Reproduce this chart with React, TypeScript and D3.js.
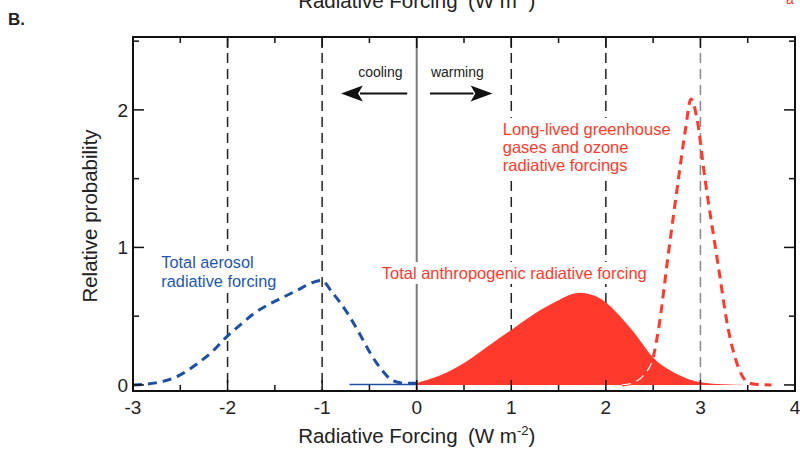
import React, { useLayoutEffect, useRef, useState } from "react";
import * as d3 from "d3";

const W = 800;
const H = 450;

// Data
const aerosolX = [-3, -2.76, -2.51, -2.31, -2.15, -2.01, -1.86, -1.72, -1.58, -1.42, -1.26, -1.1, -1.01, -0.89, -0.73, -0.61, -0.49, -0.37, -0.25, -0.12, 0, 0.05];
const aerosolY = [0.0, 0.015, 0.07, 0.16, 0.25, 0.35, 0.44, 0.52, 0.58, 0.635, 0.69, 0.745, 0.76, 0.67, 0.52, 0.38, 0.23, 0.11, 0.03, 0.012, 0.012, 0.012];
const aerosolSolidX = [-0.71, 0];
const aerosolSolidY = [0.003, 0.003];

const totalX = [0, 0.25, 0.5, 0.75, 1, 1.25, 1.5, 1.62, 1.72, 1.85, 2.0, 2.15, 2.3, 2.5, 2.75, 3.0, 3.25, 3.5];
const totalY = [0.015, 0.07, 0.16, 0.28, 0.4, 0.52, 0.615, 0.655, 0.67, 0.655, 0.6, 0.5, 0.38, 0.2, 0.08, 0.02, 0.005, 0];

const ghgX = [2.17, 2.3, 2.4, 2.5, 2.56, 2.66, 2.76, 2.84, 2.9, 2.96, 3.05, 3.19, 3.29, 3.4, 3.51, 3.6, 3.75];
const ghgY = [0, 0.02, 0.07, 0.2, 0.42, 0.95, 1.46, 1.85, 2.08, 1.95, 1.49, 0.86, 0.42, 0.13, 0.015, 0.003, 0];

const xTicks = [-3, -2, -1, 0, 1, 2, 3, 4];
const xMinorTicks = [-2.5, -1.5, -0.5, 0.5, 1.5, 2.5, 3.5];
const yTicks = [0, 1, 2];
const yMinorTicks = [0.5, 1.5, 2.5];
const dashedVerticals = [-2, -1, 1, 2];
const greyDashedVerticals = [3];

const RED = "#ff3a2c";
const BLUE = "#1d4fa3";
const TEXT_BLUE = "#2456b0";
const FONT = "'Liberation Sans', Arial, Helvetica, sans-serif";

function BoxedText(props: { x: number; y: number; lines: string[]; fill: string; size: number; lh: number }) {
  const ref = useRef<SVGTextElement>(null);
  const [box, setBox] = useState<{ x: number; y: number; w: number; h: number } | null>(null);
  useLayoutEffect(() => {
    if (ref.current) {
      const b = ref.current.getBBox();
      setBox({ x: b.x, y: b.y, w: b.width, h: b.height });
    }
  }, []);
  return (
    <g>
      {box && <rect x={box.x - 3} y={box.y - 2} width={box.w + 6} height={box.h + 4} fill="#fff" />}
      <text ref={ref} x={props.x} y={props.y} fontSize={props.size} fill={props.fill}>
        {props.lines.map((l, i) => (
          <tspan key={i} x={props.x} dy={i === 0 ? 0 : props.lh}>
            {l}
          </tspan>
        ))}
      </text>
    </g>
  );
}

export default function App() {
  const x = d3.scaleLinear().domain([-3, 4]).range([133, 795]);
  const y = d3.scaleLinear().domain([-0.044, 2.53]).range([391, 37]);
  const [x0, x1] = x.range();
  const [y0, y1] = y.range();

  const pts = (xs: number[], ys: number[]) => xs.map((v, i) => [v, ys[i]] as [number, number]);

  const line = d3
    .line<[number, number]>()
    .x((d) => x(d[0]))
    .y((d) => y(d[1]))
    .curve(d3.curveMonotoneX);

  const area = d3
    .area<[number, number]>()
    .x((d) => x(d[0]))
    .y0(y(0))
    .y1((d) => y(d[1]))
    .curve(d3.curveMonotoneX);

  const totalPath = area(pts(totalX, totalY)) || "";
  const ghgPath = line(pts(ghgX, ghgY)) || "";
  const aerosolPath = line(pts(aerosolX, aerosolY)) || "";
  const aerosolSolidPath = line(pts(aerosolSolidX, aerosolSolidY)) || "";

  const arrowY = y(2.12);

  const axisLabel = (yy: number) => (
    <text x={x(0)} y={yy} textAnchor="middle" fontSize={20.5} fill="#222">
      Radiative Forcing{"\u2002"}(W m<tspan dy={-8} fontSize={13}>-2</tspan>
      <tspan dy={8}>)</tspan>
    </text>
  );

  return (
    <svg width={W} height={H} style={{ position: "absolute", left: 0, top: 0, background: "#fff" }} fontFamily={FONT}>
      <defs>
        <clipPath id="fillClip">
          <path d={totalPath} />
        </clipPath>
        <clipPath id="plotClip">
          <rect x={x0} y={y1} width={x1 - x0} height={y0 - y1} />
        </clipPath>
      </defs>

      {/* Top cut-off title */}
      {axisLabel(8)}
      <text x={786} y={4} fontSize={14} fill={RED}>a</text>

      {/* Panel label */}
      <text x={8} y={25} fontSize={17} fontWeight="bold" fill="#222">B.</text>

      {/* Vertical reference lines */}
      {dashedVerticals.map((v) => (
        <line key={"dv" + v} x1={x(v)} x2={x(v)} y1={y1} y2={y0} stroke="#222" strokeWidth={1.5} strokeDasharray="10,6" />
      ))}
      {greyDashedVerticals.map((v) => (
        <line key={"gv" + v} x1={x(v)} x2={x(v)} y1={y1} y2={y0} stroke="#888" strokeWidth={1.5} strokeDasharray="10,6" />
      ))}
      <line x1={x(0)} x2={x(0)} y1={y1} y2={y0} stroke="#7a7a7a" strokeWidth={2} />

      {/* Annotations with white background */}
      <BoxedText x={x(-2.7)} y={268} lines={["Total aerosol", "radiative forcing"]} fill={TEXT_BLUE} size={16.3} lh={19} />
      <BoxedText x={x(-0.37)} y={279} lines={["Total anthropogenic radiative forcing"]} fill={RED} size={16.5} lh={18} />
      <BoxedText
        x={x(0.91)}
        y={135}
        lines={["Long-lived greenhouse", "gases and ozone", "radiative forcings"]}
        fill={RED}
        size={16.5}
        lh={18}
      />

      {/* Total anthropogenic filled */}
      <path d={totalPath} fill={RED} stroke="none" />

      {/* Greenhouse dashed */}
      <g clipPath="url(#plotClip)">
        <path d={ghgPath} fill="none" stroke={RED} strokeWidth={3} strokeDasharray="9,6" />
        <path d={ghgPath} fill="none" stroke="#fff" strokeWidth={1.2} strokeDasharray="9,6" clipPath="url(#fillClip)" />
      </g>

      {/* Aerosol */}
      <path d={aerosolSolidPath} fill="none" stroke={BLUE} strokeWidth={1.5} />
      <path d={aerosolPath} fill="none" stroke={BLUE} strokeWidth={3} strokeDasharray="9,6" />

      {/* Frame */}
      <rect x={x0} y={y1} width={x1 - x0} height={y0 - y1} fill="none" stroke="#111" strokeWidth={2} />

      {/* X ticks bottom & top */}
      {xTicks.map((t) => (
        <g key={"xt" + t}>
          <line x1={x(t)} x2={x(t)} y1={y0} y2={y0 - 11} stroke="#111" strokeWidth={1.5} />
          <line x1={x(t)} x2={x(t)} y1={y1} y2={y1 + 11} stroke="#111" strokeWidth={1.5} />
          <text x={x(t)} y={y0 + 23} textAnchor="middle" fontSize={19} fill="#222">
            {t}
          </text>
        </g>
      ))}
      {xMinorTicks.map((t) => (
        <g key={"xm" + t}>
          <line x1={x(t)} x2={x(t)} y1={y0} y2={y0 - 6} stroke="#111" strokeWidth={1.5} />
          <line x1={x(t)} x2={x(t)} y1={y1} y2={y1 + 6} stroke="#111" strokeWidth={1.5} />
        </g>
      ))}

      {/* Y ticks left & right */}
      {yTicks.map((t) => (
        <g key={"yt" + t}>
          <line x1={x0} x2={x0 + 11} y1={y(t)} y2={y(t)} stroke="#111" strokeWidth={1.5} />
          <line x1={x1} x2={x1 - 11} y1={y(t)} y2={y(t)} stroke="#111" strokeWidth={1.5} />
          <text x={x0 - 5} y={y(t) + 7} textAnchor="end" fontSize={19} fill="#222">
            {t}
          </text>
        </g>
      ))}
      {yMinorTicks.map((t) => (
        <g key={"ym" + t}>
          <line x1={x0} x2={x0 + 6} y1={y(t)} y2={y(t)} stroke="#111" strokeWidth={1.5} />
          <line x1={x1} x2={x1 - 6} y1={y(t)} y2={y(t)} stroke="#111" strokeWidth={1.5} />
        </g>
      ))}

      {/* Axis labels */}
      {axisLabel(443)}
      <text transform={`translate(97, 216) rotate(-90)`} textAnchor="middle" fontSize={20.5} fill="#222">
        Relative probability
      </text>

      {/* Cooling / warming arrows */}
      <text x={x(-0.15)} y={y(2.24)} textAnchor="end" fontSize={14} fill="#222">cooling</text>
      <text x={x(0.15)} y={y(2.24)} textAnchor="start" fontSize={14} fill="#222">warming</text>
      <line x1={x(-0.1)} x2={x(-0.6)} y1={arrowY} y2={arrowY} stroke="#111" strokeWidth={2} />
      <path
        d={`M${x(-0.8)},${arrowY} L${x(-0.57)},${arrowY - 8} L${x(-0.62)},${arrowY} L${x(-0.57)},${arrowY + 8} Z`}
        fill="#111"
      />
      <line x1={x(0.14)} x2={x(0.6)} y1={arrowY} y2={arrowY} stroke="#111" strokeWidth={2} />
      <path
        d={`M${x(0.8)},${arrowY} L${x(0.57)},${arrowY - 8} L${x(0.62)},${arrowY} L${x(0.57)},${arrowY + 8} Z`}
        fill="#111"
      />
    </svg>
  );
}
